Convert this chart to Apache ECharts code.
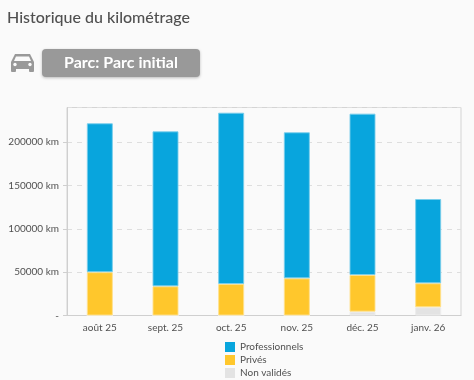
<!DOCTYPE html>
<html><head><meta charset="utf-8">
<style>html,body{margin:0;padding:0;background:#fafafa}#c{width:474px;height:380px}</style>
<script src="https://cdn.jsdelivr.net/npm/echarts@6/dist/echarts.min.js"></script></head>
<body><div id="c"></div>
<script>
const categories=["août 25","sept. 25","oct. 25","nov. 25","déc. 25","janv. 26"];
const nonValides=[0,0,0,0,4400,9500];
const prives=[50000,33700,36300,42900,42300,27700];
const professionnels=[171800,178800,197700,168500,186200,97200];
const FONT='Lato';
const chart=echarts.init(document.getElementById('c'),null,{renderer:'canvas'});
function s(name,data,color,border){return {name,type:'bar',stack:'k',data,barWidth:26,
 itemStyle:{color,borderColor:border,borderWidth:1},animation:false};}
chart.setOption({
 animation:false,backgroundColor:'#fafafa',
 title:{text:'Historique du kilométrage',left:2,top:5,textStyle:{fontFamily:FONT,fontSize:16,fontWeight:500,color:'#505050'}},
 grid:{left:67,right:13,top:107.5,bottom:64.5,show:true,borderColor:'#d4d4d4',borderWidth:1,backgroundColor:'transparent'},
 legend:{orient:'vertical',left:225,top:341,height:100,padding:0,itemWidth:10,itemHeight:10,itemGap:1,icon:'rect',
  itemStyle:{borderWidth:0},
  data:['Professionnels','Privés','Non validés'],
  textStyle:{fontFamily:FONT,fontSize:10,color:'#505050',lineHeight:12}},
 xAxis:{type:'category',data:categories,
  axisLine:{lineStyle:{color:'#cfcfcf',width:1}},
  axisTick:{alignWithLabel:true,length:4,lineStyle:{color:'#cfcfcf'}},
  axisLabel:{fontFamily:FONT,fontSize:10,color:'#505050',margin:7}},
 yAxis:{type:'value',min:0,max:240000,interval:50000,
  axisLine:{show:true,lineStyle:{color:'#cfcfcf'}},
  axisTick:{show:true,length:4,lineStyle:{color:'#cfcfcf'}},
  axisLabel:{fontFamily:FONT,fontSize:10,color:'#505050',margin:8,showMaxLabel:false,padding:[0,0,3,0],
   formatter:v=>v===0?'-':v+' km'},
  splitLine:{lineStyle:{color:'#dedede',type:[5,5],width:1}}},
 series:[
  s('Professionnels',professionnels,'#08a5dd','rgba(120,205,235,0.9)'),
  s('Privés',prives,'#ffc72c','rgba(255,225,140,0.9)'),
  s('Non validés',nonValides,'#e3e3e3','#ececec')
 ].reverse(),
 graphic:[
  {type:'rect',shape:{x:42,y:49,width:158,height:28,r:4},
   style:{fill:'#999',shadowBlur:3,shadowColor:'rgba(0,0,0,0.25)',shadowOffsetY:1}},
  {type:'text',x:121,y:63,style:{text:'Parc: Parc initial',fontFamily:FONT,fontWeight:700,fontSize:16,fill:'#fff',align:'center',verticalAlign:'middle'}},
  {type:'polygon',shape:{points:[[15,54],[30,54],[34,62],[34,69],[11,69],[11,62]]},style:{fill:'#999'}},
  {type:'rect',shape:{x:11,y:68,width:5,height:4,r:1},style:{fill:'#999'}},
  {type:'rect',shape:{x:29,y:68,width:5,height:4,r:1},style:{fill:'#999'}},
  {type:'polygon',shape:{points:[[16,56.500],[29,56.500],[31,61],[14,61]]},style:{fill:'#fafafa'}},
  {type:'circle',shape:{cx:15,cy:64.500,r:1.700},style:{fill:'#fafafa'}},
  {type:'circle',shape:{cx:30,cy:64.500,r:1.700},style:{fill:'#fafafa'}}
 ]
});
</script></body></html>
